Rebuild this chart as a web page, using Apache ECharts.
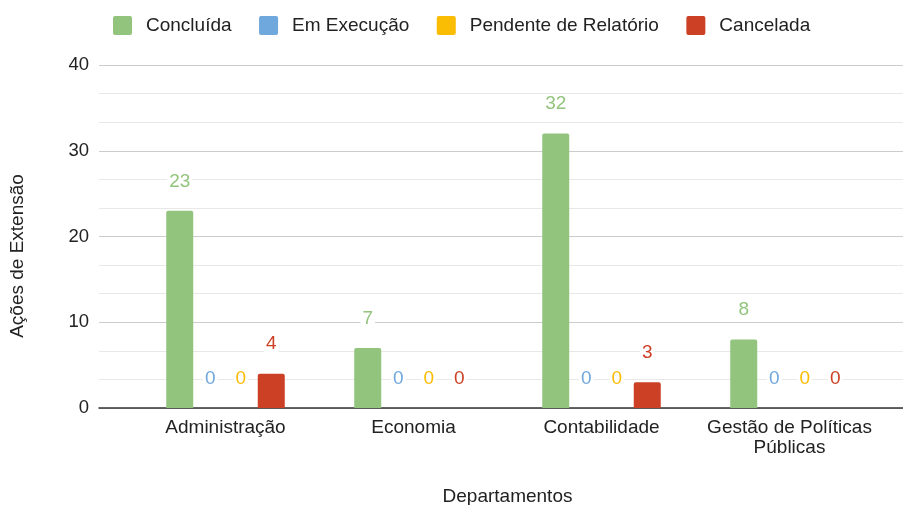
<!DOCTYPE html>
<html lang="pt">
<head>
  <meta charset="UTF-8">
  <title>Ações de Extensão por Departamento</title>
  <script src="https://cdn.jsdelivr.net/npm/echarts@6/dist/echarts.min.js"></script>
  <style>
    html, body { margin: 0; padding: 0; background: #fff; }
    #chart { width: 903px; height: 505px; }
  </style>
</head>
<body>
<div id="chart"></div>
<script>
  // dados
  const departamentos = ['Administração', 'Economia', 'Contabilidade', 'Gestão de Políticas\nPúblicas'];
  const concluida = [23, 7, 32, 8];
  const emExecucao = [0, 0, 0, 0];
  const pendente = [0, 0, 0, 0];
  const cancelada = [4, 0, 3, 0];
  const nomesSeries = ['Concluída', 'Em Execução', 'Pendente de Relatório', 'Cancelada'];
  const cores = ['#93c47d', '#6fa8dc', '#fbbc04', '#cc4125'];

  const fonte = '"Liberation Sans", Arial, sans-serif';
  const chart = echarts.init(document.getElementById('chart'));

  function serie(nome, dados, cor) {
    return {
      name: nome,
      type: 'bar',
      xAxisIndex: 1,
      yAxisIndex: 1,
      data: dados,
      barWidth: 27,
      barGap: '13%',
      itemStyle: { color: cor, borderRadius: [2, 2, 0, 0] },
      label: {
        show: true,
        position: 'top',
        distance: 20,
        color: cor,
        fontSize: 19,
        fontFamily: fonte,
        backgroundColor: '#fff',
        padding: [0, 2]
      }
    };
  }

  const option = {
    textStyle: { fontFamily: fonte },
    color: cores,
    legend: {
      left: 108,
      top: 11,
      itemWidth: 19,
      itemHeight: 19,
      itemGap: 27.5,
      // quadrado com cantos levemente arredondados
      icon: 'path://M2,0H17Q19,0,19,2V17Q19,19,17,19H2Q0,19,0,17V2Q0,0,2,0Z',
      textStyle: { fontSize: 19, color: '#222', fontFamily: fonte, padding: [0, 0, 0, 9] },
      data: nomesSeries
    },
    grid: [
      { left: 99, right: 0, top: 65, bottom: 97, outerBoundsMode: 'none' },
      { left: 131.5, width: 752, top: 65, bottom: 97, outerBoundsMode: 'none' }
    ],
    xAxis: [
      {
        gridIndex: 0,
        type: 'category',
        data: [''],
        axisLine: { lineStyle: { color: '#333', width: 1.5 } },
        axisTick: { show: false },
        axisLabel: { show: false }
      },
      {
        gridIndex: 1,
        type: 'category',
        data: departamentos,
        axisLine: { show: false },
        axisTick: { show: false },
        axisLabel: { fontSize: 19, color: '#222', margin: 10, lineHeight: 20, interval: 0 },
        name: 'Departamentos',
        nameLocation: 'middle',
        nameGap: 79,
        nameTextStyle: { fontSize: 19, color: '#222' }
      }
    ],
    yAxis: [
      {
        gridIndex: 0,
        type: 'value',
        min: 0,
        max: 40,
        interval: 10,
        axisLine: { show: false },
        axisTick: { show: false },
        axisLabel: { fontSize: 18.5, color: '#222', margin: 10 },
        splitLine: { lineStyle: { color: '#cccccc' } },
        minorTick: { show: false, splitNumber: 3 },
        minorSplitLine: { show: true, lineStyle: { color: '#e8e8e8' } }
      },
      {
        gridIndex: 1,
        type: 'value',
        min: 0,
        max: 40,
        interval: 10,
        show: false,
        splitLine: { show: false }
      }
    ],
    graphic: [
      {
        type: 'text',
        x: 18,
        y: 256,
        rotation: Math.PI / 2,
        style: {
          text: 'Ações de Extensão',
          fontSize: 19,
          fontFamily: fonte,
          fill: '#222',
          align: 'center',
          verticalAlign: 'middle'
        }
      }
    ],
    series: [
      serie(nomesSeries[0], concluida, cores[0]),
      serie(nomesSeries[1], emExecucao, cores[1]),
      serie(nomesSeries[2], pendente, cores[2]),
      serie(nomesSeries[3], cancelada, cores[3])
    ]
  };

  chart.setOption(option);
</script>
</body>
</html>
